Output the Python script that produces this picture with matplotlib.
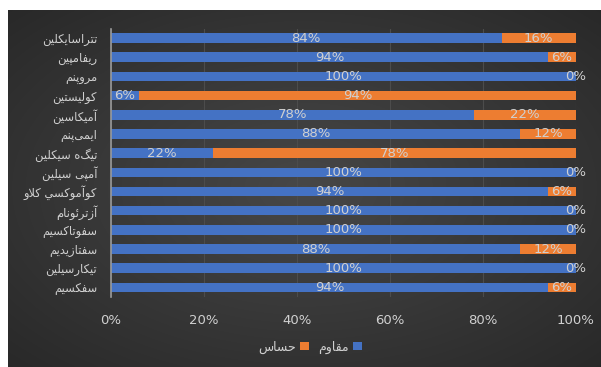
import numpy as np
import matplotlib
matplotlib.use("Agg")
import matplotlib.pyplot as plt

categories = ["تتراسایکلین", "ریفامپین", "مروپنم", "کولیستین", "آمیکاسین",
              "ایمی\u200cپنم", "تیگه سیکلین", "آمپی سیلین", "کوآموکسي کلاو",
              "آزترئونام", "سفوتاکسیم", "سفتازیدیم", "تیکارسیلین", "سفکسیم"]
resistant = [84, 94, 100, 6, 78, 88, 22, 100, 94, 100, 100, 88, 100, 94]
sensitive = [16, 6, 0, 94, 22, 12, 78, 0, 6, 0, 0, 12, 0, 6]
series_names = ["مقاوم", "حساس"]
xticks = [0, 20, 40, 60, 80, 100]

# --- minimal Arabic/Persian shaper (matplotlib has no complex text layout) ---
FORMS = {  # isolated, final, initial, medial
    '\u0627': (0xFE8D, 0xFE8E, None, None),
    '\u0622': (0xFE81, 0xFE82, None, None),
    '\u067E': (0xFB56, 0xFB57, 0xFB58, 0xFB59),
    '\u062A': (0xFE95, 0xFE96, 0xFE97, 0xFE98),
    '\u062D': (0xFEA1, 0xFEA2, 0xFEA3, 0xFEA4),
    '\u062F': (0xFEA9, 0xFEAA, None, None),
    '\u0631': (0xFEAD, 0xFEAE, None, None),
    '\u0632': (0xFEAF, 0xFEB0, None, None),
    '\u0633': (0xFEB1, 0xFEB2, 0xFEB3, 0xFEB4),
    '\u0641': (0xFED1, 0xFED2, 0xFED3, 0xFED4),
    '\u0642': (0xFED5, 0xFED6, 0xFED7, 0xFED8),
    '\u06A9': (0xFB8E, 0xFB8F, 0xFB90, 0xFB91),
    '\u06AF': (0xFB92, 0xFB93, 0xFB94, 0xFB95),
    '\u0644': (0xFEDD, 0xFEDE, 0xFEDF, 0xFEE0),
    '\u0645': (0xFEE1, 0xFEE2, 0xFEE3, 0xFEE4),
    '\u0646': (0xFEE5, 0xFEE6, 0xFEE7, 0xFEE8),
    '\u0648': (0xFEED, 0xFEEE, None, None),
    '\u06CC': (0xFBFC, 0xFBFD, 0xFBFE, 0xFBFF),
    '\u064A': (0xFEF1, 0xFEF2, 0xFEF3, 0xFEF4),
    '\u0626': (0xFE89, 0xFE8A, 0xFE8B, 0xFE8C),
}


def dual(c):
    return c in FORMS and FORMS[c][2] is not None


def shape(text):
    chars = list(text)
    out = []
    i = 0
    n = len(chars)
    while i < n:
        c = chars[i]
        prev = chars[i - 1] if i > 0 else None
        joins_prev = prev is not None and dual(prev) and c in FORMS
        if c == '\u0644' and i + 1 < n and chars[i + 1] in ('\u0627', '\u0622'):
            out.append(chr(0xFEFC if joins_prev else 0xFEFB))
            i += 2
            continue
        if c not in FORMS:
            if c != '\u200c':
                out.append(c)
            i += 1
            continue
        nxt = chars[i + 1] if i + 1 < n else None
        joins_next = dual(c) and nxt is not None and nxt in FORMS
        f = FORMS[c]
        if joins_prev and joins_next:
            g = f[3]
        elif joins_prev:
            g = f[1]
        elif joins_next:
            g = f[2]
        else:
            g = f[0]
        out.append(chr(g))
        i += 1
    return ''.join(reversed(out))


W, H = 601, 367
fig = plt.figure(figsize=(W / 100, H / 100), dpi=100, facecolor="white")

# dark chart background with soft radial gradient
bg = fig.add_axes([8 / W, 0, 1 - 8 / W, 1 - 10 / H])
yy, xx = np.mgrid[-1:1:200j, -1:1:300j]
r = np.sqrt(xx ** 2 + yy ** 2) / np.sqrt(2)
val = 0.28 - 0.12 * r
img = np.dstack([val, val, val])
bg.imshow(img, aspect="auto", extent=[0, 1, 0, 1], interpolation="bilinear")
bg.set_axis_off()

ax = fig.add_axes([111 / W, 1 - 297 / H, (576 - 111) / W, (297 - 28.5) / H])
ax.patch.set_alpha(0)

y = np.arange(len(categories))
res = np.array(resistant)
sen = np.array(sensitive)
blue = "#4472C4"
orange = "#ED7D31"
h = 0.5
b1 = ax.barh(y, res, height=h, color=blue, zorder=3)
b2 = ax.barh(y, sen, left=res, height=h, color=orange, zorder=3)

lab_color = "#d0d0d0"
for yi, r_, s_ in zip(y, res, sen):
    if r_ > 0:
        ax.text(r_ / 2, yi, f"{r_}%", ha="center", va="center", color=lab_color,
                fontsize=9.5, zorder=5)
    ax.text(r_ + s_ / 2, yi, f"{s_}%", ha="center", va="center", color=lab_color,
            fontsize=9.5, zorder=5)

ax.set_xlim(0, 100)
ax.set_ylim(len(categories) - 0.5, -0.5)
ax.set_xticks(xticks)
ax.set_xticklabels([f"{t}%" for t in xticks], color=lab_color, fontsize=9.5)
ax.set_yticks(y)
ax.set_yticklabels([shape(c) for c in categories], color=lab_color, fontsize=8.3)
ax.tick_params(length=0, pad=10)
ax.tick_params(axis="x", pad=12)
ax.grid(axis="x", color="#4c4c4c", linewidth=0.8, zorder=0)
for s in ["top", "right", "bottom"]:
    ax.spines[s].set_visible(False)
ax.spines["left"].set_color("#9a9a9a")
ax.spines["left"].set_linewidth(1.2)
ax.spines["left"].set_zorder(4)

leg = fig.legend([b2, b1], [shape(series_names[1]), shape(series_names[0])],
                 loc="center", bbox_to_anchor=(310 / W, 1 - 347 / H), ncol=2,
                 frameon=False, markerfirst=False, fontsize=9,
                 handlelength=0.7, handleheight=0.7, handletextpad=0.3,
                 columnspacing=0.8)
for t in leg.get_texts():
    t.set_color(lab_color)

fig.savefig("out.png", dpi=100, facecolor="white")
